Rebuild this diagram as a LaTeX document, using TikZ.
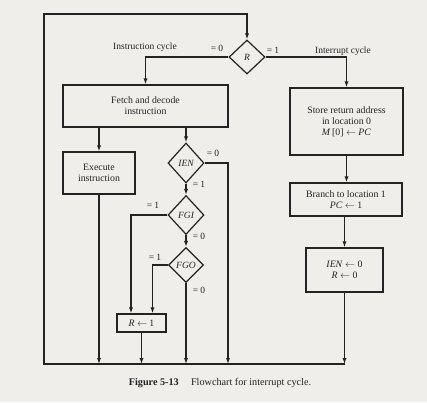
\documentclass[tikz,border=0pt]{standalone}
\usepackage{fontspec}
\setmainfont{Liberation Serif}
\usetikzlibrary{shapes.geometric,arrows.meta}
\definecolor{paper}{RGB}{240,238,235}
\definecolor{ink}{RGB}{35,35,35}
\begin{document}
\begin{tikzpicture}[x=1pt,y=-1pt,
  font=\fontsize{9.8}{11}\selectfont, color=ink,
  box/.style={draw=ink, line width=1.2pt, rectangle, inner sep=0pt, align=center},
  dec/.style={draw=ink, diamond, line width=1.2pt, inner sep=0pt, font=\fontsize{9.5}{10}\selectfont\itshape},
  conn/.style={draw=ink, line width=1.2pt},
  arr/.style={conn, -{Latex[length=6pt,width=4.2pt]}},
  lab/.style={inner sep=0pt, font=\fontsize{9.5}{10}\selectfont}]
\fill[paper] (0,0) rectangle (427,402);
\useasboundingbox (0,0) rectangle (427,402);

% decisions
\node[dec, minimum width=36pt, minimum height=34pt] (R) at (247,57) {R};
\node[dec, minimum width=36pt, minimum height=40pt] (IEN) at (186,163) {IEN};
\node[dec, minimum width=36pt, minimum height=39pt] (FGI) at (186,215) {FGI};
\node[dec, minimum width=35pt, minimum height=35pt] (FGO) at (186,265) {FGO};

% boxes
\node[box, minimum width=165pt, minimum height=42pt] (fetch) at (145.5,106) {Fetch and decode\\instruction};
\node[box, minimum width=72pt, minimum height=42pt] (exec) at (99,173) {Execute\\instruction};
\node[box, minimum width=113pt, minimum height=67pt] (store) at (346.5,121.5) {Store return address\\in location 0\\\textit{M}\,[0] $\leftarrow$ \textit{PC}};
\node[box, minimum width=112pt, minimum height=33pt] (branch) at (346,199.5) {Branch to location 1\\\textit{PC} $\leftarrow$ 1};
\node[box, minimum width=77pt, minimum height=44pt] (ienbox) at (344.5,270) {\textit{IEN} $\leftarrow$ 0\\\textit{R} $\leftarrow$ 0};
\node[box, minimum width=49pt, minimum height=18pt] (r1) at (141.5,323) {\textit{R} $\leftarrow$ 1};

% loop coordinates
\coordinate (tl) at (44,14);
\coordinate (bl) at (44,364);
\coordinate (br) at (344.5,364);
\coordinate (ienr) at (228,364);

% labels
\node[lab] (lic) at (145,47) {Instruction cycle};
\node[lab] (lr0) at (217,48) {= 0};
\node[lab] (lr1) at (273,50) {= 1};
\node[lab] (lintc) at (343,51) {Interrupt cycle};
\node[lab] (li0) at (213,153) {= 0};
\node[lab] (li1) at (199,184) {= 1};
\node[lab] (lg1) at (153,205) {= 1};
\node[lab] (lg0) at (199,236) {= 0};
\node[lab] (lo1) at (155,257) {= 1};
\node[lab] (lo0) at (199,290) {= 0};

% caption
\node[inner sep=0pt, font=\fontsize{10.2}{12}\selectfont] (cap) at (220,383) {\textbf{Figure 5-13}\hspace{1.2em}Flowchart for interrupt cycle.};

% connectors
\draw[arr] (br) -- (bl) -- (tl) -| (R.north);
\draw[arr] (R.west) -| (fetch.north);
\draw[arr] (R.east) -| (store.north);
\draw[arr] (exec.north |- fetch.south) -- (exec.north);
\draw[arr] (IEN.north |- fetch.south) -- (IEN.north);
\draw[arr] (IEN.east) -| (ienr);
\draw[arr] (IEN.south) -- (FGI.north);
\draw[arr] (FGI.south) -- (FGO.north);
\draw[arr] (FGI.west) -| ([xshift=-10.5pt]r1.north);
\draw[arr] (FGO.west) -| ([xshift=11pt]r1.north);
\draw[arr] (FGO.south) -- (FGO.south |- bl);
\draw[arr] (r1.south) -- (r1.south |- bl);
\draw[arr] (exec.south) -- (exec.south |- bl);
\draw[arr] (store.south) -- (store.south |- branch.north);
\draw[arr] (ienbox.north |- branch.south) -- (ienbox.north);
\draw[arr] (ienbox.south) -- (br);
\end{tikzpicture}
\end{document}
